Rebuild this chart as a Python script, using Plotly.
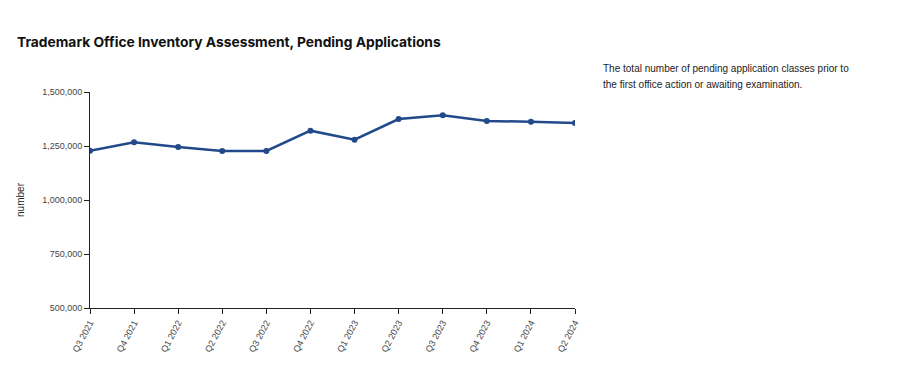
import plotly.graph_objects as go

quarters = ["Q3 2021", "Q4 2021", "Q1 2022", "Q2 2022", "Q3 2022", "Q4 2022",
            "Q1 2023", "Q2 2023", "Q3 2023", "Q4 2023", "Q1 2024", "Q2 2024"]
pending = [1228000, 1267000, 1245000, 1227000, 1227000, 1321000,
           1279000, 1375000, 1392000, 1366000, 1362000, 1356000]
y_ticks = [500000, 750000, 1000000, 1250000, 1500000]

title_text = "Trademark Office Inventory Assessment, Pending Applications"
note_lines = ["The total number of pending application classes prior to",
              "the first office action or awaiting examination."]

fig = go.Figure()
fig.add_trace(go.Scatter(
    x=quarters, y=pending, mode="lines+markers",
    line=dict(color="#22498a", width=2.5),
    marker=dict(color="#22498a", size=6),
    hoverinfo="x+y", showlegend=False,
))

# page body has an 8px margin, so figure coords = screen coords - 8
L, T, R, B = 80, 84, 567, 300
W, H = 900, 373

fig.update_layout(
    width=W, height=H,
    margin=dict(l=L, r=W - R, t=T, b=H - B),
    paper_bgcolor="white", plot_bgcolor="white",
    font=dict(family="Liberation Sans, Arial, sans-serif", color="#333"),
    title=dict(text="<b>" + title_text + "</b>", x=9/W, xanchor="left",
               xref="container", y=1-34/H, yanchor="middle", yref="container",
               font=dict(family="Inter, Liberation Sans, sans-serif", size=13.8, color="#111")),
    xaxis=dict(
        type="category", showgrid=False, zeroline=False,
        showline=True, linecolor="#222", linewidth=1,
        ticks="outside", ticklen=5, tickcolor="#222",
        tickangle=-62, tickfont=dict(size=9, color="#444"),
        range=[0, len(quarters) - 1],
    ),
    yaxis=dict(
        range=[500000, 1500000], tickvals=y_ticks, tickformat=",",
        showgrid=False, zeroline=False,
        showline=True, linecolor="#222", linewidth=1,
        ticks="outside", ticklen=5, tickcolor="#222",
        tickfont=dict(size=9, color="#444"),
        title=dict(text="number", font=dict(size=10, color="#222"), standoff=15),
    ),
    annotations=[dict(
        text=line, xref="paper", yref="paper",
        x=(593-L)/(R-L), y=(B-(61 + 16*i - 8))/(B-T), xanchor="left", yanchor="top",
        align="left", showarrow=False,
        font=dict(family="Liberation Sans, Arial, sans-serif", size=10, color="#222"),
    ) for i, line in enumerate(note_lines)],
)

fig.write_html("out.html")
